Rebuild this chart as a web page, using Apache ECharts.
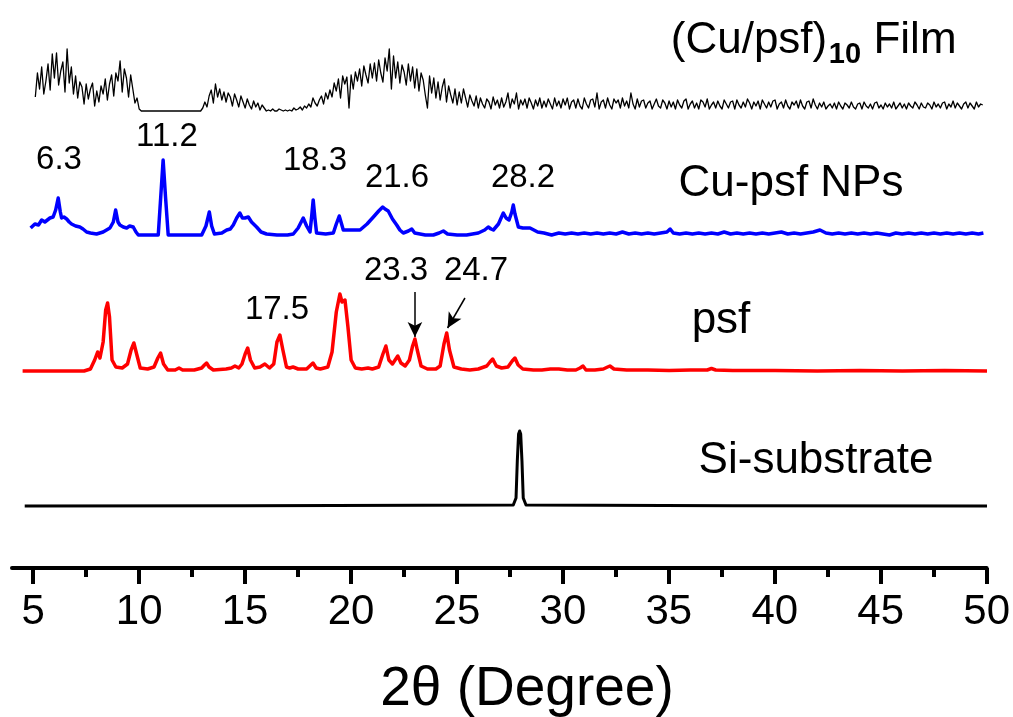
<!DOCTYPE html>
<html>
<head>
<meta charset="utf-8">
<title>XRD patterns</title>
<script src="https://cdn.jsdelivr.net/npm/echarts@6/dist/echarts.min.js"></script>
<style>
  html, body { margin: 0; padding: 0; background: #ffffff; }
  #chart { width: 1013px; height: 717px; }
</style>
</head>
<body>
<div id="chart"></div>
<script>
// 2θ range and axis ticks
const xMin = 4;
const xMax = 50;
const majorTicks = [5, 10, 15, 20, 25, 30, 35, 40, 45, 50];
const minorTicks = [7.5, 12.5, 17.5, 22.5, 27.5, 32.5, 37.5, 42.5, 47.5];

// (Cu/psf)10 film: step scan, counts (relative) from 5.1° in 0.1° steps
const filmStart = 5.1;
const filmStep = 0.1;
const filmCounts = [
  14, 38, 22, 44, 17, 30, 47, 21, 57, 33,   // 5.1 - 6.0
  58, 26, 40, 49, 19, 62, 28, 44, 17, 35,   // 6.1 - 7.0
  13, 29, 24, 7, 27, 12, 22, 28, 5, 20,     // 7.1 - 8.0
  9, 25, 17, 32, 11, 27, 36, 15, 38, 30,    // 8.1 - 9.0
  50, 19, 42, 33, 14, 36, 22, 8, 13, 2,     // 9.1 - 10.0
  0, 0, 0, 0, 0, 0, 0, 0, 0, 0,             // 10.1 - 11.0
  0, 0, 0, 0, 0, 0, 0, 0, 0, 0,             // 11.1 - 12.0
  0, 0, 0, 0, 0, 0, 0, 0, 0, 3,             // 12.1 - 13.0
  9, 4, 15, 21, 8, 27, 14, 22, 11, 19,      // 13.1 - 14.0
  9, 18, 14, 5, 17, 11, 4, 15, 9, 3,        // 14.1 - 15.0
  12, 6, 2, 10, 4, 8, 1, 6, 3, 0,           // 15.1 - 16.0
  1, 0, 2, 0, 0, 2, 1, 0, 1, 0,             // 16.1 - 17.0
  1, 0, 3, 1, 2, 4, 1, 5, 3, 7,             // 17.1 - 18.0
  4, 13, 8, 5, 11, 15, 7, 18, 12, 21,       // 18.1 - 19.0
  14, 28, 20, 32, 13, 35, 27, 34, 3, 36,    // 19.1 - 20.0
  22, 39, 30, 42, 25, 45, 36, 28, 47, 33,   // 20.1 - 21.0
  48, 30, 51, 38, 29, 53, 40, 62, 22, 55,   // 21.1 - 22.0
  33, 49, 28, 46, 39, 26, 47, 30, 44, 23,   // 22.1 - 23.0
  42, 20, 38, 31, 16, 3, 35, 18, 33, 13,    // 23.1 - 24.0
  29, 11, 24, 32, 9, 25, 16, 8, 22, 6,      // 24.1 - 25.0
  19, 8, 22, 13, 4, 16, 10, 5, 15, 3,       // 25.1 - 26.0
  13, 7, 3, 12, 9, 2, 14, 6, 11, 3,         // 26.1 - 27.0
  13, 4, 9, 18, 3, 12, 7, 18, 2, 11,        // 27.1 - 28.0
  6, 12, 3, 13, 8, 2, 11, 5, 13, 3,         // 28.1 - 29.0
  10, 4, 12, 7, 2, 13, 5, 10, 3, 12,        // 29.1 - 30.0
  6, 13, 2, 9, 11, 3, 12, 5, 2, 13,         // 30.1 - 31.0
  7, 3, 11, 12, 4, 18, 2, 9, 11, 3,         // 31.1 - 32.0
  13, 6, 2, 12, 8, 11, 3, 13, 5, 10,        // 32.1 - 33.0
  3, 18, 7, 2, 12, 4, 10, 11, 3, 8,         // 33.1 - 34.0
  10, 2, 7, 12, 5, 3, 11, 8, 2, 10,         // 34.1 - 35.0
  4, 9, 2, 11, 6, 3, 10, 12, 2, 7,          // 35.1 - 36.0
  10, 3, 8, 2, 11, 9, 4, 12, 2, 6,          // 36.1 - 37.0
  9, 3, 10, 5, 2, 11, 7, 3, 9, 10,          // 37.1 - 38.0
  2, 11, 6, 3, 9, 4, 12, 8, 2, 9,           // 38.1 - 39.0
  5, 10, 2, 11, 7, 3, 9, 4, 10, 11,         // 39.1 - 40.0
  2, 7, 9, 3, 11, 5, 2, 9, 6, 10,           // 40.1 - 41.0
  3, 11, 5, 2, 9, 10, 3, 12, 6, 2,          // 41.1 - 42.0
  8, 4, 9, 2, 5, 7, 3, 8, 2, 9,             // 42.1 - 43.0
  5, 2, 8, 6, 3, 9, 4, 2, 7, 8,             // 43.1 - 44.0
  2, 9, 5, 3, 7, 2, 8, 9, 3, 6,             // 44.1 - 45.0
  2, 8, 4, 7, 3, 9, 2, 5, 8, 3,             // 45.1 - 46.0
  7, 2, 8, 5, 3, 9, 6, 2, 8, 4,             // 46.1 - 47.0
  3, 8, 6, 2, 9, 4, 7, 3, 8, 9,             // 47.1 - 48.0
  2, 7, 4, 10, 3, 8, 5, 2, 7, 9,            // 48.1 - 49.0
  3, 8, 5, 2, 9, 4, 7, 6                    // 49.1 - 49.8
];

// Cu-psf nanoparticles: [2θ, relative intensity]
const cuPsfNPs = [
  [4.88, 8], [5.08, 12], [5.25, 11], [5.4, 16], [5.55, 14], [5.79, 18], [5.94, 19],
  [6.06, 26], [6.18, 38], [6.28, 24], [6.34, 18], [6.45, 19], [6.58, 17], [6.7, 14],
  [6.81, 12], [7.0, 10], [7.2, 9], [7.28, 10], [7.35, 7], [7.52, 4], [7.7, 3], [7.99, 2],
  [8.3, 4], [8.62, 8], [8.78, 14], [8.89, 26], [9.0, 14], [9.09, 11], [9.25, 9], [9.41, 8],
  [9.55, 10], [9.72, 9], [9.85, 4], [9.96, 1], [10.9, 1], [11.02, 40], [11.13, 76],
  [11.24, 40], [11.37, 1], [12.95, 1], [13.15, 10], [13.31, 24], [13.42, 10], [13.55, 2],
  [13.9, 3], [14.13, 6], [14.3, 7], [14.44, 11], [14.6, 18], [14.75, 23], [14.87, 18],
  [14.99, 18], [15.15, 19], [15.3, 14], [15.54, 9], [15.75, 4], [16.01, 2], [16.5, 1],
  [17.0, 1], [17.27, 2], [17.5, 8], [17.74, 18], [17.9, 10], [18.06, 4], [18.14, 20],
  [18.21, 36], [18.29, 18], [18.37, 3], [18.8, 2], [19.16, 3], [19.3, 12], [19.44, 20],
  [19.55, 12], [19.63, 6], [20.0, 6], [20.42, 6], [20.75, 12], [21.05, 19], [21.3, 25],
  [21.49, 29], [21.6, 27], [21.75, 25], [21.95, 17], [22.15, 11], [22.3, 6], [22.46, 3],
  [22.7, 5], [22.86, 7], [23.0, 3], [23.09, 1], [23.5, 1], [23.88, 1], [24.15, 3],
  [24.35, 5], [24.55, 2], [25.0, 1], [25.45, 1], [26.0, 3], [26.3, 6], [26.47, 9],
  [26.6, 7], [26.71, 6], [26.95, 12], [27.18, 23], [27.31, 18], [27.45, 16], [27.58, 24],
  [27.65, 31], [27.73, 22], [27.89, 9], [28.1, 8], [28.44, 8], [28.8, 4], [29.1, 3],
  [29.46, 1], [29.8, 3], [30.1, 2], [30.4, 3], [30.7, 2], [31.0, 3], [31.3, 2], [31.6, 3],
  [31.9, 2], [32.2, 3], [32.5, 2], [32.8, 4], [33.1, 2], [33.4, 3], [33.7, 2], [34.0, 3],
  [34.3, 2], [34.6, 3], [34.9, 4], [35.05, 7], [35.2, 3], [35.5, 2], [35.8, 3], [36.1, 2],
  [36.4, 3], [36.7, 2], [37.0, 3], [37.3, 2], [37.6, 4], [37.9, 2], [38.2, 3], [38.5, 2],
  [38.8, 3], [39.1, 2], [39.4, 3], [39.7, 2], [40.0, 3], [40.3, 4], [40.6, 2], [40.9, 3],
  [41.2, 2], [41.5, 3], [41.8, 4], [42.12, 6], [42.4, 3], [42.7, 2], [43.0, 3], [43.3, 2],
  [43.6, 3], [43.9, 2], [44.2, 3], [44.5, 2], [44.8, 3], [45.1, 2], [45.4, 1], [45.7, 3],
  [46.0, 2], [46.3, 3], [46.6, 2], [46.9, 3], [47.2, 2], [47.5, 3], [47.8, 2], [48.1, 3],
  [48.4, 2], [48.7, 3], [49.0, 2], [49.3, 3], [49.6, 2], [49.83, 3]
];

// psf: [2θ, relative intensity]
const psf = [
  [4.5, 1], [7.4, 1], [7.7, 3], [7.9, 12], [8.04, 20], [8.15, 14], [8.3, 30], [8.42, 62],
  [8.51, 69], [8.6, 55], [8.72, 12], [8.9, 5], [9.2, 4], [9.45, 8], [9.62, 22], [9.75, 29],
  [9.88, 18], [10.05, 4], [10.4, 3], [10.7, 5], [10.88, 14], [11.01, 19], [11.15, 8],
  [11.35, 2], [11.7, 2], [11.88, 4], [12.05, 2], [12.6, 2], [12.95, 4], [13.08, 7],
  [13.18, 9], [13.3, 5], [13.5, 2], [14.1, 3], [14.35, 4], [14.52, 6], [14.7, 4],
  [14.85, 8], [15.0, 18], [15.12, 24], [15.25, 12], [15.45, 4], [15.7, 5], [15.93, 8],
  [16.15, 4], [16.35, 8], [16.5, 30], [16.64, 37], [16.78, 22], [16.95, 5], [17.1, 4],
  [17.26, 5], [17.5, 3], [17.9, 3], [18.05, 6], [18.2, 9], [18.35, 4], [18.55, 3],
  [18.9, 5], [19.1, 20], [19.3, 60], [19.47, 78], [19.57, 70], [19.71, 72], [19.85, 45],
  [20.0, 12], [20.2, 4], [20.5, 3], [20.8, 4], [21.0, 3], [21.3, 5], [21.5, 18],
  [21.64, 26], [21.78, 12], [21.95, 8], [22.2, 16], [22.35, 9], [22.55, 6], [22.75, 12],
  [22.9, 26], [23.01, 33], [23.12, 22], [23.3, 6], [23.6, 3], [24.0, 3], [24.2, 6],
  [24.38, 28], [24.51, 39], [24.64, 22], [24.85, 5], [25.2, 3], [25.6, 2], [26.0, 3],
  [26.4, 6], [26.55, 10], [26.68, 13], [26.85, 6], [27.1, 4], [27.4, 5], [27.6, 11],
  [27.73, 14], [27.88, 7], [28.1, 3], [28.6, 2], [29.0, 2], [29.4, 3], [29.8, 3],
  [30.2, 2], [30.6, 2], [30.8, 4], [30.94, 6], [31.08, 2], [31.5, 2], [31.9, 3],
  [32.1, 5], [32.21, 6], [32.4, 3], [33, 2], [34, 2], [35, 1.5], [36, 2], [36.8, 2],
  [37.0, 3.5], [37.2, 2], [38, 1.5], [40, 1.5], [42, 1], [44, 1.5], [46, 1], [48, 1.5],
  [50, 1]
];

// Si substrate: [2θ, relative intensity]
const siSubstrate = [
  [4.6, 0], [15, 0.3], [27.65, 1], [27.78, 8], [27.84, 45], [27.9, 72], [27.95, 75],
  [28.0, 72], [28.06, 45], [28.12, 8], [28.25, 1], [38, 0.3], [50, 0]
];

// Peak annotations (2θ labels)
const npPeakLabels = ['6.3', '11.2', '18.3', '21.6', '28.2'];
const psfPeakLabels = ['17.5', '23.3', '24.7'];
// Arrows on the psf pattern: [2θ, intensity] start -> end
const psfArrows = [
  [[23.01, 80], [23.01, 35]],
  [[25.37, 74], [24.55, 44]]
];

const filmData = filmCounts.map((v, i) => [+(filmStart + i * filmStep).toFixed(2), v]);

const FONT = '"Liberation Sans", Arial, Helvetica, sans-serif';

// one strip per pattern, the last grid carries the visible 2θ axis
const traces = [
  { name: '(Cu/psf)10 Film', data: filmData, color: '#000000', width: 1.3, base: 111 },
  { name: 'Cu-psf NPs', data: cuPsfNPs, color: '#0000ff', width: 3.5, base: 236 },
  { name: 'psf', data: psf, color: '#ff0000', width: 3.5, base: 372 },
  { name: 'Si-substrate', data: siSubstrate, color: '#000000', width: 3, base: 506 }
];

const gridLeft = 12, gridRight = 26, stripHeight = 100;
const grids = traces.map(t => ({ left: gridLeft, right: gridRight, top: t.base - stripHeight, height: stripHeight }));
grids.push({ left: gridLeft, right: gridRight, top: 468, height: 100 });

const xAxes = traces.map((t, i) => ({
  type: 'value', gridIndex: i, min: xMin, max: xMax, show: false
}));
xAxes.push({
  type: 'value', gridIndex: 4, min: xMin, max: xMax, position: 'bottom',
  axisLine: { show: true, lineStyle: { color: '#000', width: 4, cap: 'round' } },
  axisTick: { show: true, customValues: majorTicks, length: 16, lineStyle: { color: '#000', width: 4 } },
  axisLabel: { show: true, customValues: majorTicks, margin: 23, fontSize: 42, color: '#000', fontFamily: FONT },
  splitLine: { show: false }
});
xAxes.push({
  type: 'value', gridIndex: 4, min: xMin, max: xMax, position: 'bottom',
  axisLine: { show: false },
  axisTick: { show: true, customValues: minorTicks, length: 9, lineStyle: { color: '#000', width: 4 } },
  axisLabel: { show: false },
  splitLine: { show: false }
});

const yAxes = grids.map((g, i) => ({
  type: 'value', gridIndex: i, min: 0, max: stripHeight, show: false
}));

const series = traces.map((t, i) => ({
  name: t.name,
  type: 'line',
  xAxisIndex: i,
  yAxisIndex: i,
  data: t.data,
  showSymbol: false,
  symbol: 'none',
  smooth: false,
  clip: false,
  lineStyle: { color: t.color, width: t.width, join: 'round' },
  silent: true,
  animation: false
}));

// arrows pointing at the 23.3 and 24.7 peaks of psf
series[2].markLine = {
  silent: true,
  animation: false,
  symbol: ['none', 'arrow'],
  symbolSize: [11, 15],
  label: { show: false },
  lineStyle: { color: '#000', width: 1.5, type: 'solid' },
  data: psfArrows.map(a => [{ coord: a[0] }, { coord: a[1] }])
};

function txt(text, x, y, size, weight) {
  return {
    type: 'text', x: x, y: y, silent: true,
    style: {
      text: text, fill: '#000', fontSize: size, fontFamily: FONT, fontWeight: weight || 'normal',
      align: 'center', verticalAlign: 'middle', textAlign: 'center', textVerticalAlign: 'middle'
    }
  };
}

const npLabelPos = [[59, 160], [167, 137], [315, 161], [397, 178], [523, 178]];
const psfLabelPos = [[277, 310], [396, 271], [476, 271]];

const graphics = [
  txt('(Cu/psf)', 749, 41, 44),
  txt('10', 845, 55, 29, 'bold'),
  txt('Film', 915, 41, 44),
  txt('Cu-psf NPs', 791, 184, 44),
  txt('psf', 721, 321, 44),
  txt('Si-substrate', 816, 461, 44),
  txt('2θ (Degree)', 527, 690, 55)
];
npPeakLabels.forEach((s, i) => graphics.push(txt(s, npLabelPos[i][0], npLabelPos[i][1], 33)));
psfPeakLabels.forEach((s, i) => graphics.push(txt(s, psfLabelPos[i][0], psfLabelPos[i][1], 33)));

const chart = echarts.init(document.getElementById('chart'), null, { renderer: 'canvas' });
chart.setOption({
  backgroundColor: '#ffffff',
  animation: false,
  grid: grids,
  xAxis: xAxes,
  yAxis: yAxes,
  series: series,
  graphic: { elements: graphics }
});
</script>
</body>
</html>
